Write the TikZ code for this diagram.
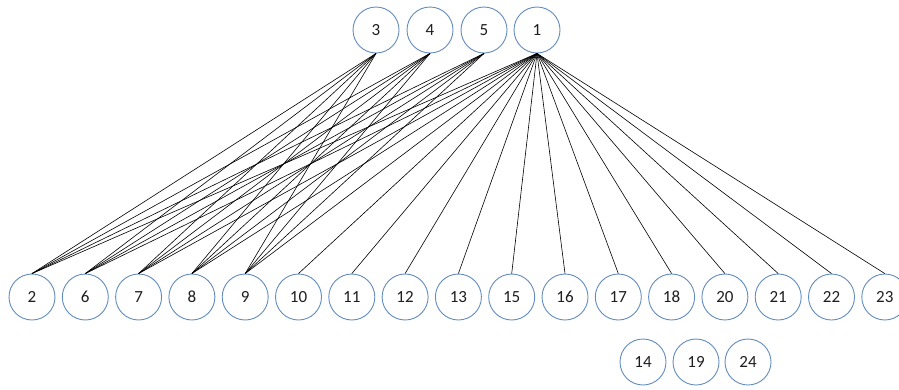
\documentclass[tikz,border=0pt]{standalone}
\usepackage{fontspec}
\setmainfont{Carlito}
\definecolor{ringblue}{RGB}{98,140,190}
\definecolor{digit}{RGB}{30,30,30}
\begin{document}
\begin{tikzpicture}[x=1pt,y=-1pt,
  vertex/.style={circle,draw=ringblue,line width=0.9pt,fill=white,
    minimum size=46pt,inner sep=0pt,text=digit,font=\fontsize{17}{17}\selectfont},
  link/.style={black,line width=0.6pt}]
\useasboundingbox (0,0) rectangle (899,389);
\clip (0,0) rectangle (899,389);
% upper row
\node[vertex] (n3) at (376,30) {3};
\node[vertex] (n4) at (430,30) {4};
\node[vertex] (n5) at (484,30) {5};
\node[vertex] (n1) at (537,30) {1};
% lower row
\foreach \lab [count=\i from 0] in {2,6,7,8,9,10,11,12,13,15,16,17,18,20,21,22,23}
  \node[vertex] (n\lab) at (32+53.3*\i,297) {\lab};
% isolated nodes
\node[vertex] (n14) at (643,362) {14};
\node[vertex] (n19) at (696,362) {19};
\node[vertex] (n24) at (748,362) {24};
% edges
\foreach \s in {3,4,5}
  \foreach \t in {2,6,7,8,9}
    \draw[link] (n\s.south) -- (n\t.north);
\foreach \t in {2,6,7,8,9,10,11,12,13,15,16,17,18,20,21,22,23}
  \draw[link] (n1.south) -- (n\t.north);
\end{tikzpicture}
\end{document}
